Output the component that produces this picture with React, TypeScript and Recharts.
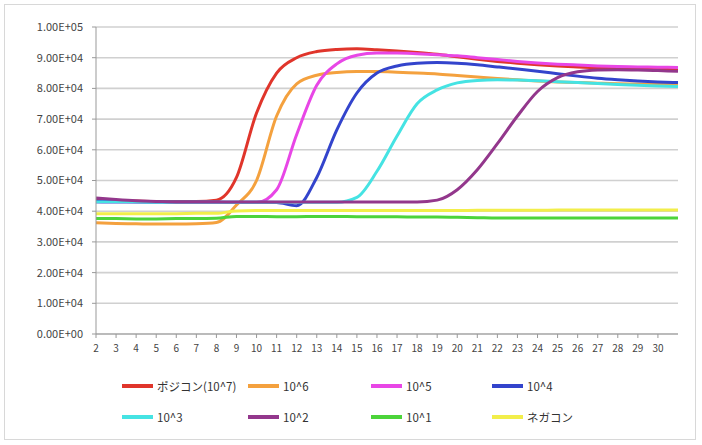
import React from "react";
import { LineChart, Line, XAxis, YAxis, CartesianGrid, Legend } from "recharts";

const cycles = [2, 3, 4, 5, 6, 7, 8, 9, 10, 11, 12, 13, 14, 15, 16, 17, 18, 19, 20, 21, 22, 23, 24, 25, 26, 27, 28, 29, 30, 31];
const xTicks = [2, 3, 4, 5, 6, 7, 8, 9, 10, 11, 12, 13, 14, 15, 16, 17, 18, 19, 20, 21, 22, 23, 24, 25, 26, 27, 28, 29, 30];
const yTicks = [0, 10000, 20000, 30000, 40000, 50000, 60000, 70000, 80000, 90000, 100000];

const pos7 = [43500, 43400, 43300, 43200, 43200, 43200, 43600, 51000, 72000, 85000, 90000, 92000, 92700, 92900, 92600, 92200, 91700, 91100, 90300, 89500, 88800, 88200, 87700, 87300, 87000, 86700, 86500, 86300, 86200, 86100];
const s6 = [36200, 36000, 35900, 35800, 35800, 35900, 36300, 42000, 50000, 71000, 81500, 84300, 85200, 85500, 85500, 85300, 85000, 84700, 84200, 83700, 83200, 82800, 82400, 82100, 81900, 81700, 81500, 81400, 81300, 81200];
const s5 = [43000, 42900, 42900, 42800, 42800, 42800, 42800, 42800, 42800, 47000, 65000, 81000, 88000, 90800, 91500, 91500, 91300, 91000, 90600, 90000, 89400, 88800, 88300, 87900, 87600, 87300, 87100, 87000, 86900, 86800];
const s4 = [43300, 43200, 43100, 43000, 43000, 43000, 43000, 42900, 42900, 42800, 41800, 51000, 66500, 78500, 85000, 87300, 88200, 88400, 88200, 87700, 87000, 86300, 85600, 84800, 84000, 83300, 82800, 82400, 82100, 81900];
const s3 = [43000, 43000, 43000, 42900, 42900, 42900, 42900, 42900, 42900, 42900, 42900, 42900, 42900, 44500, 53000, 64500, 75000, 79500, 81800, 82600, 82800, 82700, 82500, 82200, 81900, 81600, 81300, 81000, 80800, 80600];
const s2 = [44300, 43800, 43400, 43200, 43000, 43000, 43000, 43000, 43000, 43000, 43000, 43000, 43000, 43000, 43000, 43000, 43000, 43600, 47000, 53500, 62000, 71000, 79000, 83500, 85400, 86000, 86100, 86000, 85800, 85600];
const s1 = [37600, 37600, 37500, 37500, 37600, 37600, 37700, 38300, 38300, 38200, 38200, 38300, 38300, 38200, 38200, 38200, 38100, 38100, 38000, 37900, 37800, 37800, 37800, 37800, 37800, 37800, 37800, 37800, 37800, 37800];
const neg = [39200, 39200, 39200, 39200, 39200, 39300, 39300, 40100, 40200, 40200, 40200, 40200, 40200, 40200, 40200, 40200, 40200, 40200, 40200, 40300, 40300, 40300, 40300, 40400, 40400, 40400, 40400, 40400, 40400, 40400];

const seriesNames = ["ポジコン(10^7)", "10^6", "10^5", "10^4", "10^3", "10^2", "10^1", "ネガコン"];
const seriesValues = [pos7, s6, s5, s4, s3, s2, s1, neg];
const seriesColors = ["#e0352b", "#f4a13e", "#e846e6", "#3344cc", "#45e3e3", "#93378c", "#4cd43a", "#f2ee4a"];

const data = cycles.map((c, i) => {
  const row: Record<string, number> = { cycle: c };
  seriesNames.forEach((n, k) => {
    row[n] = seriesValues[k][i];
  });
  return row;
});

const fmt = (v: number) => {
  const s = v.toExponential(2).toUpperCase();
  return s.replace(/E([+-])(\d)$/, "E$10$2");
};

const FONT = "'Noto Sans CJK JP', 'Liberation Sans', sans-serif";

const legendCols = [122, 248, 371, 492];

const LegendContent = () => (
  <div style={{ position: "relative", width: 702, height: 60, fontFamily: FONT, fontSize: 11.5, color: "#333" }}>
    {seriesNames.map((n, k) => {
      const col = k % 4;
      const row = Math.floor(k / 4);
      return (
        <div
          key={n}
          style={{
            position: "absolute",
            left: legendCols[col],
            top: 14 + row * 31,
            display: "flex",
            alignItems: "center",
            whiteSpace: "nowrap",
          }}
        >
          <div style={{ width: 31, height: 4, background: seriesColors[k], marginRight: 4 }} />
          <span>{n}</span>
        </div>
      );
    })}
  </div>
);

export default function App() {
  return (
    <div style={{ position: "absolute", left: 0, top: 0, width: 702, height: 445, background: "#fff" }}>
      <div style={{ position: "absolute", left: 4, top: 4, width: 692, height: 436, border: "1px solid #d8d8d8", boxSizing: "border-box" }} />
      <LineChart
        width={702}
        height={445}
        data={data}
        margin={{ top: 27, right: 24, bottom: 21, left: 10 }}
      >
        <CartesianGrid horizontal={true} vertical={false} stroke="#d0d0d0" strokeWidth={1.6} />
        <XAxis
          dataKey="cycle"
          type="number"
          domain={[2, 31]}
          ticks={xTicks}
          interval={0}
          height={30}
          tick={{ fontSize: 10, fill: "#444", fontFamily: FONT }}
          tickLine={{ stroke: "#999" }}
          axisLine={{ stroke: "#999" }}
          tickSize={4}
          tickMargin={7}
        />
        <YAxis
          domain={[0, 100000]}
          ticks={yTicks}
          interval={0}
          width={86}
          tickFormatter={fmt}
          tick={{ fontSize: 11, fill: "#444", fontFamily: FONT }}
          tickLine={{ stroke: "#999" }}
          axisLine={{ stroke: "#999" }}
          tickSize={4}
          tickMargin={9}
        />
        <Legend verticalAlign="bottom" content={<LegendContent />} wrapperStyle={{ left: 0, width: 702, height: 60 }} />
        {seriesNames.map((n, k) => (
          <Line
            key={n}
            dataKey={n}
            stroke={seriesColors[k]}
            strokeWidth={3}
            dot={false}
            type="monotone"
            isAnimationActive={false}
          />
        ))}
      </LineChart>
    </div>
  );
}
